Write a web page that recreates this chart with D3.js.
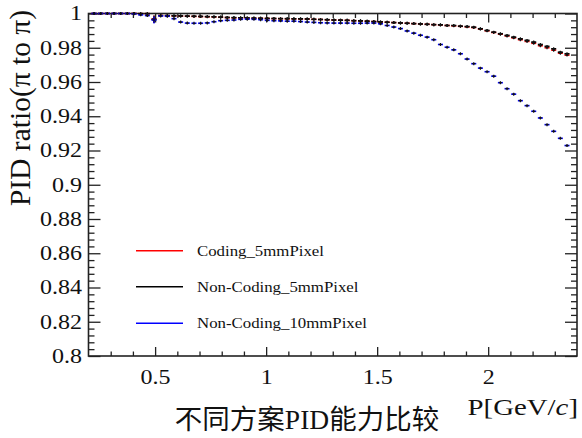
<!DOCTYPE html>
<html>
<head>
<meta charset="utf-8">
<script src="https://cdn.jsdelivr.net/npm/d3@7/dist/d3.min.js"></script>
<style>
  html, body { margin: 0; padding: 0; background: #fff; }
  svg { display: block; }
  text { font-family: "Liberation Serif", "DejaVu Serif", serif; fill: #111; }
</style>
</head>
<body>
<svg id="chart" width="582" height="438"></svg>
<script>
// Momentum bin centres (GeV/c), 0.03 GeV/c wide bins
const momentum = [
  0.225, 0.255, 0.285, 0.315, 0.345, 0.375, 0.405, 0.435, 0.465, 0.495,
  0.525, 0.555, 0.585, 0.615, 0.645, 0.675, 0.705, 0.735, 0.765, 0.795,
  0.825, 0.855, 0.885, 0.915, 0.945, 0.975, 1.005, 1.035, 1.065, 1.095,
  1.125, 1.155, 1.185, 1.215, 1.245, 1.275, 1.305, 1.335, 1.365, 1.395,
  1.425, 1.455, 1.485, 1.515, 1.545, 1.575, 1.605, 1.635, 1.665, 1.695,
  1.725, 1.755, 1.785, 1.815, 1.845, 1.875, 1.905, 1.935, 1.965, 1.995,
  2.025, 2.055, 2.085, 2.115, 2.145, 2.175, 2.205, 2.235, 2.265, 2.295,
  2.325, 2.355
];
const binWidth = 0.03;

// pi -> pi identification ratio per bin
const coding5mm = [
  1.0000, 1.0000, 1.0000, 1.0000, 1.0000, 1.0000, 1.0000, 0.9999, 0.9999, 0.9967,
  0.9988, 0.9987, 0.9986, 0.9985, 0.9984, 0.9983, 0.9982, 0.9981, 0.9980, 0.9978,
  0.9976, 0.9975, 0.9974, 0.9973, 0.9972, 0.9972, 0.9971, 0.9970, 0.9970, 0.9969,
  0.9969, 0.9968, 0.9968, 0.9966, 0.9965, 0.9963, 0.9962, 0.9961, 0.9960, 0.9958,
  0.9957, 0.9955, 0.9953, 0.9951, 0.9949, 0.9947, 0.9945, 0.9943, 0.9941, 0.9939,
  0.9937, 0.9935, 0.9933, 0.9930, 0.9928, 0.9925, 0.9922, 0.9918, 0.9909, 0.9899,
  0.9889, 0.9879, 0.9869, 0.9858, 0.9847, 0.9837, 0.9826, 0.9812, 0.9800, 0.9786,
  0.9768, 0.9757
];
const nonCoding5mm = [
  1.0000, 1.0000, 1.0000, 1.0000, 1.0000, 1.0000, 1.0000, 0.9999, 0.9999, 0.9966,
  0.9988, 0.9988, 0.9987, 0.9986, 0.9985, 0.9984, 0.9983, 0.9982, 0.9981, 0.9979,
  0.9977, 0.9976, 0.9975, 0.9974, 0.9973, 0.9972, 0.9971, 0.9971, 0.9970, 0.9970,
  0.9969, 0.9969, 0.9968, 0.9966, 0.9965, 0.9964, 0.9962, 0.9961, 0.9960, 0.9958,
  0.9957, 0.9955, 0.9953, 0.9951, 0.9949, 0.9947, 0.9945, 0.9943, 0.9941, 0.9939,
  0.9937, 0.9935, 0.9934, 0.9930, 0.9930, 0.9926, 0.9924, 0.9920, 0.9911, 0.9901,
  0.9891, 0.9882, 0.9872, 0.9862, 0.9852, 0.9843, 0.9833, 0.9819, 0.9808, 0.9794,
  0.9774, 0.9765
];
const nonCoding10mm = [
  1.0000, 1.0000, 1.0000, 1.0000, 1.0000, 1.0000, 0.9998, 0.9992, 0.9988, 0.9962,
  0.9986, 0.9984, 0.9970, 0.9950, 0.9944, 0.9943, 0.9943, 0.9945, 0.9952, 0.9958,
  0.9960, 0.9962, 0.9966, 0.9967, 0.9966, 0.9964, 0.9960, 0.9958, 0.9957, 0.9955,
  0.9955, 0.9953, 0.9950, 0.9948, 0.9946, 0.9945, 0.9944, 0.9944, 0.9944, 0.9943,
  0.9943, 0.9944, 0.9944, 0.9940, 0.9930, 0.9921, 0.9912, 0.9898, 0.9885, 0.9873,
  0.9862, 0.9847, 0.9819, 0.9803, 0.9788, 0.9765, 0.9734, 0.9707, 0.9681, 0.9660,
  0.9634, 0.9596, 0.9561, 0.9529, 0.9491, 0.9462, 0.9429, 0.9390, 0.9351, 0.9312,
  0.9271, 0.9229
];

// Sparse vertical error bars: [momentum, error]
const coding5mmErr = [[0.495, 0.0022]];
const nonCoding5mmErr = [[0.495, 0.0022]];
const nonCoding10mmErr = [[0.495, 0.0020]];

const seriesNames = ["Coding_5mmPixel", "Non-Coding_5mmPixel", "Non-Coding_10mmPixel"];
const seriesColors = ["#ff0000", "#000000", "#0000ff"];

const xTicksMajor = [0.5, 1, 1.5, 2];
const xTickLabels = ["0.5", "1", "1.5", "2"];
const xTicksMinor = [0.3, 0.4, 0.6, 0.7, 0.8, 0.9, 1.1, 1.2, 1.3, 1.4, 1.6, 1.7, 1.8, 1.9, 2.1, 2.2, 2.3];
const yTicksMajor = [0.8, 0.82, 0.84, 0.86, 0.88, 0.9, 0.92, 0.94, 0.96, 0.98, 1];
const yTickLabels = ["0.8", "0.82", "0.84", "0.86", "0.88", "0.9", "0.92", "0.94", "0.96", "0.98", "1"];
const yTickStep = 0.004;

const xTitle = "P[GeV/";
const xTitleItalic = "c";
const yTitle = "PID ratio(\u03c0 to \u03c0)";
const caption = ["不同方案", "PID", "能力比较"];

// ---- layout ----
const svg = d3.select("#chart");
const frame = { left: 88.5, right: 577, top: 13.5, bottom: 356 };
const stretchX = 1.2;   // wide serif lettering

const x = d3.scaleLinear().domain([0.2, 2.4]).range([frame.left, frame.right]);
const y = d3.scaleLinear().domain([0.8, 1.0]).range([frame.bottom, frame.top]);

const yMinor = d3.range(0, 51).map(i => +(0.8 + i * yTickStep).toFixed(3))
  .filter(v => !yTicksMajor.some(m => Math.abs(m - v) < 1e-6));

// widen glyphs horizontally
function widen(sel, f) {
  sel.each(function () {
    const w = this.getComputedTextLength();
    d3.select(this).attr("textLength", w * f).attr("lengthAdjust", "spacingAndGlyphs");
  });
}

function styleAxis(g) {
  g.attr("font-family", null);
  g.select(".domain").remove();
  g.selectAll(".tick line").attr("stroke", "#222").attr("stroke-width", 1.3);
}

// bottom axis
const gxb = svg.append("g").attr("transform", `translate(0,${frame.bottom})`)
  .call(d3.axisBottom(x).tickValues(xTicksMajor).tickSize(-9).tickPadding(14)
    .tickFormat((d, i) => xTickLabels[i]));
styleAxis(gxb);
gxb.selectAll("text").attr("font-size", 20).attr("fill", "#111")
  .attr("font-family", "Liberation Serif");
svg.append("g").attr("transform", `translate(0,${frame.bottom})`)
  .call(d3.axisBottom(x).tickValues(xTicksMinor).tickSize(-4.5).tickFormat(""))
  .call(styleAxis);

// top axis (ticks only)
svg.append("g").attr("transform", `translate(0,${frame.top})`)
  .call(d3.axisTop(x).tickValues(xTicksMajor).tickSize(-9).tickFormat(""))
  .call(styleAxis);
svg.append("g").attr("transform", `translate(0,${frame.top})`)
  .call(d3.axisTop(x).tickValues(xTicksMinor).tickSize(-4.5).tickFormat(""))
  .call(styleAxis);

// left axis
const gyl = svg.append("g").attr("transform", `translate(${frame.left},0)`)
  .call(d3.axisLeft(y).tickValues(yTicksMajor).tickSize(-12).tickPadding(6.5)
    .tickFormat((d, i) => yTickLabels[i]));
styleAxis(gyl);
gyl.selectAll("text").attr("font-size", 20).attr("fill", "#111")
  .attr("font-family", "Liberation Serif");
svg.append("g").attr("transform", `translate(${frame.left},0)`)
  .call(d3.axisLeft(y).tickValues(yMinor).tickSize(-6).tickFormat(""))
  .call(styleAxis);

// right axis (ticks only)
svg.append("g").attr("transform", `translate(${frame.right},0)`)
  .call(d3.axisRight(y).tickValues(yTicksMajor).tickSize(-12).tickFormat(""))
  .call(styleAxis);
svg.append("g").attr("transform", `translate(${frame.right},0)`)
  .call(d3.axisRight(y).tickValues(yMinor).tickSize(-6).tickFormat(""))
  .call(styleAxis);

// frame
svg.append("rect")
  .attr("x", frame.left).attr("y", frame.top)
  .attr("width", frame.right - frame.left).attr("height", frame.bottom - frame.top)
  .attr("fill", "none").attr("stroke", "#222").attr("stroke-width", 1.6);

// data points: bin-width bar in series colour + small black marker
const seriesValues = [coding5mm, nonCoding5mm, nonCoding10mm];
const seriesErrs = [coding5mmErr, nonCoding5mmErr, nonCoding10mmErr];
const plot = svg.append("g");
seriesValues.forEach((vals, s) => {
  const col = seriesColors[s];
  const pts = momentum.map((m, i) => ({ m, v: vals[i] }));
  const g = plot.append("g");
  g.selectAll("line.h").data(pts).join("line").attr("class", "h")
    .attr("x1", d => x(d.m - binWidth / 2) + 0.8).attr("x2", d => x(d.m + binWidth / 2) - 0.8)
    .attr("y1", d => y(d.v)).attr("y2", d => y(d.v))
    .attr("stroke", col).attr("stroke-width", 1.6);
  g.selectAll("line.e").data(seriesErrs[s]).join("line").attr("class", "e")
    .attr("x1", d => x(d[0])).attr("x2", d => x(d[0]))
    .attr("y1", d => y(Math.min(1, d[1] + vals[momentum.indexOf(d[0])])))
    .attr("y2", d => y(vals[momentum.indexOf(d[0])] - d[1]))
    .attr("stroke", col).attr("stroke-width", 1.3);
  g.selectAll("path.mk").data(pts).join("path").attr("class", "mk")
    .attr("d", d => {
      const cx = x(d.m), cy = y(d.v);
      return `M${cx - 1.5},${cy}H${cx + 1.5}M${cx},${cy - 1.5}V${cy + 1.5}`;
    })
    .attr("stroke", "#111").attr("stroke-width", 1.2);
});

// legend
const legendY = [250.7, 286.7, 323.3];
const lg = svg.append("g");
seriesNames.forEach((name, i) => {
  lg.append("line").attr("x1", 136).attr("x2", 183)
    .attr("y1", legendY[i]).attr("y2", legendY[i])
    .attr("stroke", seriesColors[i]).attr("stroke-width", 1.6);
  lg.append("text").attr("x", 197).attr("y", legendY[i]).attr("dy", "0.35em")
    .attr("font-size", 14).text(name);
});

// axis titles
const xt = svg.append("text").attr("x", 578).attr("y", 415)
  .attr("text-anchor", "end").attr("font-size", 24);
xt.append("tspan").text(xTitle);
xt.append("tspan").attr("font-style", "italic").text(xTitleItalic);
xt.append("tspan").text("]");

svg.append("text")
  .attr("transform", "translate(30,108) rotate(-90)")
  .attr("text-anchor", "middle").attr("font-size", 29.5).text(yTitle);

// stretch the serif lettering
widen(gxb.selectAll("text"), stretchX);
widen(gyl.selectAll("text"), stretchX);
widen(lg.selectAll("text"), stretchX);
widen(xt, stretchX);

// caption
const cap = svg.append("text").attr("x", 307).attr("y", 429)
  .attr("text-anchor", "middle").attr("font-size", 27.5);
cap.append("tspan").attr("font-family", "Noto Sans CJK SC").text(caption[0]);
cap.append("tspan").attr("font-family", "Liberation Serif").text(caption[1]);
cap.append("tspan").attr("font-family", "Noto Sans CJK SC").text(caption[2]);
</script>
</body>
</html>
